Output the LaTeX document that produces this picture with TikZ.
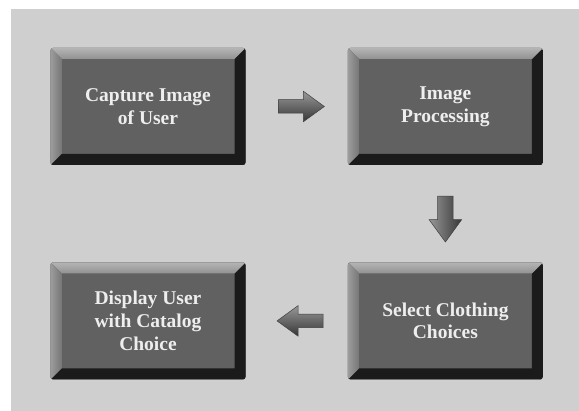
\documentclass[tikz,border=0pt]{standalone}
\usepackage{fontspec}
\setmainfont{Liberation Serif}
\usetikzlibrary{positioning,calc,shapes.arrows}
\definecolor{bgGray}{HTML}{CFCFCF}
\definecolor{faceGray}{HTML}{616161}
\definecolor{bevelTop}{HTML}{B4B4B4}
\definecolor{bevelMid}{HTML}{929292}
\definecolor{bevelLeft}{HTML}{9C9C9C}
\definecolor{bevelInner}{HTML}{777777}
\definecolor{bevelDark}{HTML}{1B1B1B}
\definecolor{labelWhite}{HTML}{EEEEEE}
\definecolor{arrowLight}{HTML}{989898}
\definecolor{arrowDark}{HTML}{363636}
\tikzset{
  stage/.style={fill=faceGray,rounded corners=2.5pt,inner sep=0pt,
    minimum width=195pt,minimum height=117pt,align=center,text=labelWhite,
    font=\bfseries\fontsize{19.5}{22.7}\selectfont,
    path picture={
      % dark right and bottom rims
      \fill[bevelDark,sharp corners] (path picture bounding box.north east)
        -- (path picture bounding box.south east)
        -- (path picture bounding box.south west)
        -- ([shift={(11pt,11pt)}]path picture bounding box.south west)
        -- ([shift={(-11pt,11pt)}]path picture bounding box.south east)
        -- ([shift={(-11pt,-11pt)}]path picture bounding box.north east) -- cycle;
      % light top rim
      \fill[sharp corners,top color=bevelTop,bottom color=bevelMid]
        (path picture bounding box.north west)
        -- (path picture bounding box.north east)
        -- ([shift={(-11pt,-11pt)}]path picture bounding box.north east)
        -- ([shift={(11pt,-11pt)}]path picture bounding box.north west) -- cycle;
      % left rim
      \fill[sharp corners,left color=bevelLeft,right color=bevelInner]
        (path picture bounding box.north west)
        -- ([shift={(11pt,-11pt)}]path picture bounding box.north west)
        -- ([shift={(11pt,11pt)}]path picture bounding box.south west)
        -- (path picture bounding box.south west) -- cycle;
    }},
  blockarrow/.style={single arrow,draw=black!75,line width=0.5pt,
    minimum height=46pt,minimum width=30pt,inner xsep=0pt,inner ysep=6.5pt,
    single arrow head extend=8.5pt,single arrow tip angle=72,
    top color=arrowLight,bottom color=arrowDark}
}
\begin{document}
\begin{tikzpicture}[x=1pt,y=-1pt]
  \useasboundingbox (0,0) rectangle (579,411);
  \fill[white] (0,0) rectangle (579,411);
  \fill[bgGray] (11,9) rectangle (579,411);

  \node[stage] (capture) at (148,106.5) {Capture Image\\of User};
  \node[stage, right=102pt of capture] (processing) {Image\\Processing};
  \node[stage, below=97pt of processing] (select) {Select Clothing\\Choices};
  \node[stage, left=102pt of select] (display) {Display User\\with Catalog\\Choice};

  \node[blockarrow] (toProcessing) at ($(capture.east)!0.5!(processing.west)$) {};
  \node[blockarrow, shape border rotate=270, inner xsep=7.5pt, inner ysep=0pt,
    minimum width=32pt, left color=arrowLight, right color=arrowDark]
    (toSelect) at ($(processing.south)!0.5!(select.north)$) {};
  \node[blockarrow, shape border rotate=180, xshift=8pt]
    (toDisplay) at ($(select.west)!0.5!(display.east)$) {};
\end{tikzpicture}
\end{document}
